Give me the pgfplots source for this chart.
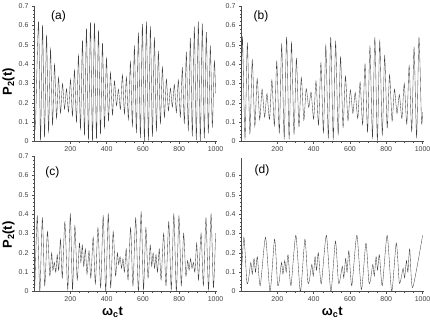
\documentclass[border=0pt]{standalone}
\usepackage{fontspec}
\setmainfont{Liberation Sans}
\usepackage{pgfplots}
\pgfplotsset{compat=1.18}
\pgfplotsset{
 mystyle/.style={
  scale only axis, width=182.5pt, height=135.5pt,
  xmin=0, xmax=1005, ymin=0, ymax=0.7,
  axis x line=bottom, axis y line=left,
  axis line style={-, black!70, line width=0.4pt},
  xtick={200,400,600,800,1000}, ytick={0,0.1,0.2,0.3,0.4,0.5,0.6,0.7},
  minor x tick num=3, minor y tick num=4,
  tick align=outside, major tick length=2pt, minor tick length=1.2pt,
  tick style={black!70, line width=0.3pt},
  ticklabel style={font=\fontsize{7}{8}\selectfont, text=black!75},
  /pgf/number format/assume math mode=true,
  yticklabel style={/pgf/number format/fixed, /pgf/number format/precision=1},
  xticklabel style={/pgf/number format/1000 sep={}},
  ylabel style={anchor=center, font=\bfseries\fontsize{13}{13}\selectfont},
  xlabel style={anchor=center, font=\bfseries\fontsize{13}{13}\selectfont},
 },
 curve/.style={black!75, line width=0.35pt, smooth, tension=0.4},
}
\begin{document}
\begin{tikzpicture}
\useasboundingbox (0,0) rectangle (430pt,319pt);
% (a)
\begin{axis}[mystyle, at={(34pt,177.5pt)}, anchor=south west,
  ylabel={P\textsubscript{2}(t)}, ylabel style={at={(rel axis cs:-0.14,0.44)}}]
\addplot[curve] table {
8 0.06
25 0.62
36 0.005
47 0.602
58 0.021
69 0.551
80 0.050
91 0.478
102 0.085
113 0.399
124 0.120
135 0.331
146 0.146
157 0.299
168 0.167
179 0.272
190 0.152
201 0.321
212 0.132
223 0.369
234 0.100
245 0.446
256 0.064
267 0.523
278 0.031
289 0.585
300 0.009
311 0.617
322 0.002
333 0.614
344 0.012
355 0.575
366 0.037
377 0.510
388 0.070
399 0.431
410 0.106
421 0.357
432 0.137
443 0.313
454 0.185
465 0.270
476 0.166
487 0.345
498 0.142
509 0.332
520 0.114
531 0.413
542 0.079
553 0.492
564 0.044
575 0.562
586 0.017
597 0.608
608 0.003
619 0.619
630 0.006
641 0.595
652 0.025
663 0.538
674 0.056
685 0.464
696 0.092
707 0.385
718 0.125
729 0.321
740 0.159
751 0.275
762 0.178
773 0.294
784 0.150
795 0.318
806 0.127
817 0.381
828 0.094
839 0.460
850 0.058
861 0.535
872 0.026
883 0.593
894 0.007
905 0.619
916 0.003
927 0.609
938 0.016
949 0.565
960 0.042
971 0.495
982 0.077
993 0.417
1000 0.25
};
\node[font=\fontsize{12}{12}\selectfont] at (rel axis cs:0.134,0.925) {(a)};
\end{axis}
% (b)
\begin{axis}[mystyle, at={(241pt,177.5pt)}, anchor=south west]
\addplot[curve] table {
0 0.18
8 0.54
22 0.017
35 0.507
49 0.041
62 0.422
76 0.079
89 0.325
103 0.112
116 0.270
130 0.126
143 0.247
157 0.114
170 0.318
184 0.082
197 0.414
211 0.044
224 0.502
238 0.018
251 0.540
265 0.016
278 0.511
292 0.039
305 0.429
319 0.076
332 0.331
346 0.110
359 0.273
373 0.176
386 0.255
400 0.116
413 0.312
427 0.085
440 0.407
454 0.046
467 0.497
481 0.019
494 0.539
508 0.015
521 0.516
535 0.036
548 0.436
562 0.073
575 0.338
589 0.108
602 0.266
616 0.146
629 0.253
643 0.118
656 0.306
670 0.087
683 0.400
697 0.049
710 0.491
724 0.020
737 0.538
751 0.005
764 0.519
778 0.034
791 0.443
805 0.070
818 0.345
832 0.106
845 0.270
859 0.145
872 0.242
886 0.119
899 0.300
913 0.090
926 0.392
940 0.052
953 0.485
967 0.022
980 0.537
994 0.10
1000 0.15
};
\node[font=\fontsize{12}{12}\selectfont] at (rel axis cs:0.11,0.925) {(b)};
\end{axis}
% (c)
\begin{axis}[mystyle, at={(34pt,27.5pt)}, anchor=south west,
  ylabel={P\textsubscript{2}(t)}, ylabel style={at={(rel axis cs:-0.14,0.417)}},
  xlabel={ω\textsubscript{c}t}, xlabel style={at={(rel axis cs:0.43,-0.151)}}]
\addplot[curve] table {
5 0.03
18 0.39
32 0.00
46 0.38
59 0.03
74 0.31
87 0.08
97 0.20
104 0.11
112 0.15
120 0.10
128 0.19
136 0.11
146 0.27
156 0.07
170 0.36
186 0.01
200 0.40
212 0.01
225 0.34
238 0.06
250 0.25
258 0.15
266 0.24
274 0.13
283 0.22
292 0.09
303 0.21
313 0.07
326 0.28
338 0.04
352 0.33
367 0.02
381 0.39
395 0.00
409 0.40
422 0.02
436 0.31
449 0.08
459 0.20
466 0.14
474 0.18
482 0.12
490 0.17
498 0.10
508 0.22
518 0.06
532 0.33
545 0.03
560 0.38
575 0.00
590 0.41
603 0.01
616 0.33
628 0.07
640 0.24
648 0.13
656 0.20
664 0.12
672 0.19
680 0.10
690 0.22
700 0.06
714 0.30
727 0.03
742 0.36
756 0.01
770 0.40
784 0.00
798 0.39
811 0.03
824 0.30
836 0.08
846 0.16
854 0.11
862 0.17
870 0.12
878 0.15
886 0.10
896 0.25
906 0.06
920 0.30
933 0.03
947 0.38
961 0.01
975 0.40
988 0.02
1000 0.30
};
\node[font=\fontsize{12}{12}\selectfont] at (rel axis cs:0.10,0.88) {(c)};
\end{axis}
% (d)
\begin{axis}[mystyle, at={(241pt,27.5pt)}, anchor=south west, ymax=0.69, height=133.6pt,
  ytick={0,0.1,0.2,0.3,0.4,0.5,0.6},
  xlabel={ω\textsubscript{c}t}, xlabel style={at={(rel axis cs:0.50,-0.153)}}]
\addplot[curve] table {
0 0.05
16 0.28
32 0.05
41 0.06
54 0.15
62 0.09
72 0.17
80 0.10
90 0.18
106 0.03
135 0.28
160 0.00
185 0.27
201 0.04
210 0.05
223 0.15
231 0.09
241 0.16
249 0.10
259 0.19
275 0.03
302 0.29
327 0.00
352 0.27
368 0.05
377 0.06
390 0.14
398 0.08
408 0.18
416 0.11
426 0.20
442 0.04
470 0.29
495 0.00
520 0.26
536 0.05
545 0.06
558 0.13
566 0.07
576 0.17
584 0.10
594 0.21
610 0.03
638 0.29
663 0.01
688 0.25
704 0.05
713 0.06
726 0.14
734 0.08
744 0.18
752 0.11
762 0.19
778 0.03
805 0.29
830 0.00
855 0.25
871 0.05
880 0.06
893 0.12
901 0.07
911 0.16
919 0.10
929 0.22
945 0.02
1000 0.29
};
\node[font=\fontsize{12}{12}\selectfont] at (rel axis cs:0.115,0.91) {(d)};
\end{axis}
\end{tikzpicture}
\end{document}
